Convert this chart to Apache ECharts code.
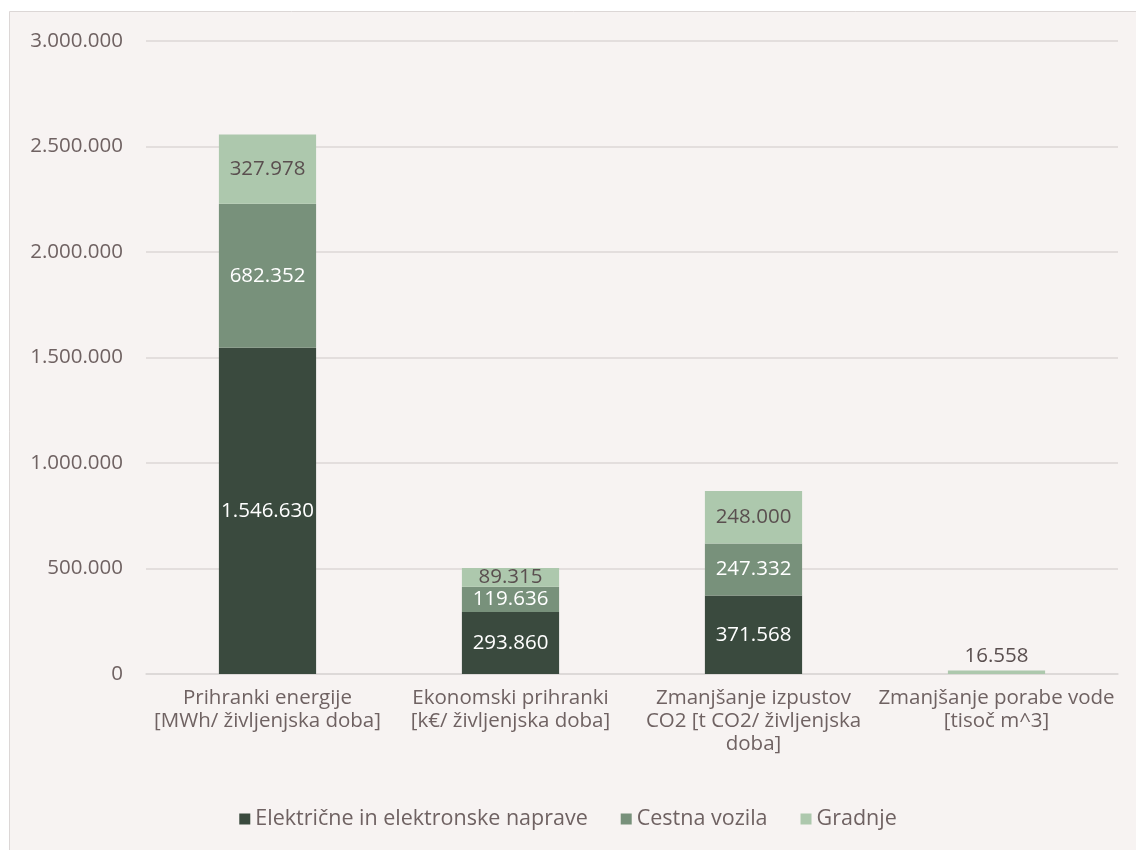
<!DOCTYPE html>
<html>
<head>
<meta charset="utf-8">
<script src="https://cdn.jsdelivr.net/npm/echarts@6/dist/echarts.min.js"></script>
<style>
html,body{margin:0;padding:0;background:#ffffff;}
#c{width:1136px;height:850px;}
</style>
</head>
<body>
<div id="c"></div>
<script>
const categories = [
  "Prihranki energije\n[MWh/ življenjska doba]",
  "Ekonomski prihranki\n[k€/ življenjska doba]",
  "Zmanjšanje izpustov\nCO2 [t CO2/ življenjska\ndoba]",
  "Zmanjšanje porabe vode\n[tisoč m^3]"
];
const seriesNames = ["Električne in elektronske naprave", "Cestna vozila", "Gradnje"];
const elektricne = [1546630, 293860, 371568, null];
const cestna = [682352, 119636, 247332, null];
const gradnje = [327978, 89315, 248000, 16558];
const yTicks = [0, 500000, 1000000, 1500000, 2000000, 2500000, 3000000];

const colors = ["#3a4a3e", "#78917b", "#adc8ad"];
const labelColors = ["#ffffff", "#ffffff", "#5a4f4f"];
const font = "'Open Sans', 'Noto Sans', sans-serif";
const fmt = v => String(Math.round(v)).replace(/\B(?=(\d{3})+(?!\d))/g, ".");

const chart = echarts.init(document.getElementById('c'));
const dataSets = [elektricne, cestna, gradnje];
chart.setOption({
  backgroundColor: '#ffffff',
  animation: false,
  textStyle: { fontFamily: font },
  graphic: [{
    type: 'rect', z: -10, silent: true,
    shape: { x: 9.5, y: 11.5, width: 1140, height: 850 },
    style: { fill: '#f7f3f2', stroke: '#dcd7d6', lineWidth: 1 }
  }],
  grid: { left: 146, right: 18, top: 41, bottom: 176, containLabel: false },
  legend: {
    top: 803, left: 'center',
    itemWidth: 11, itemHeight: 11, itemGap: 33,
    icon: 'rect',
    textStyle: { color: '#6f6262', fontSize: 21.5, fontFamily: font },
    data: seriesNames
  },
  xAxis: {
    type: 'category',
    data: categories,
    axisLine: { show: true, lineStyle: { color: '#dcd7d6', width: 1.5 } },
    axisTick: { show: false },
    axisLabel: { color: '#6f6262', fontSize: 20.5, lineHeight: 23, margin: 13, interval: 0, fontFamily: font }
  },
  yAxis: {
    type: 'value',
    min: 0, max: 3000000, interval: 500000,
    axisLine: { show: false },
    axisTick: { show: false },
    splitLine: { lineStyle: { color: '#dcd7d6', width: 1.5 } },
    axisLabel: {
      color: '#6f6262', fontSize: 20.5, margin: 23, fontFamily: font,
      formatter: v => yTicks.includes(v) ? fmt(v) : ''
    }
  },
  series: dataSets.map((arr, i) => ({
    name: seriesNames[i],
    type: 'bar',
    stack: 'total',
    barWidth: '40%',
    itemStyle: { color: colors[i] },
    data: arr.map((v, j) => {
      if (v === null) return null;
      const small = (i === 2 && j === 3);
      return {
        value: v,
        label: {
          show: true,
          position: small ? 'top' : 'inside',
          distance: 4,
          color: labelColors[i],
          fontSize: 20.5,
          fontFamily: font,
          formatter: p => fmt(p.value)
        }
      };
    })
  }))
});
</script>
</body>
</html>
